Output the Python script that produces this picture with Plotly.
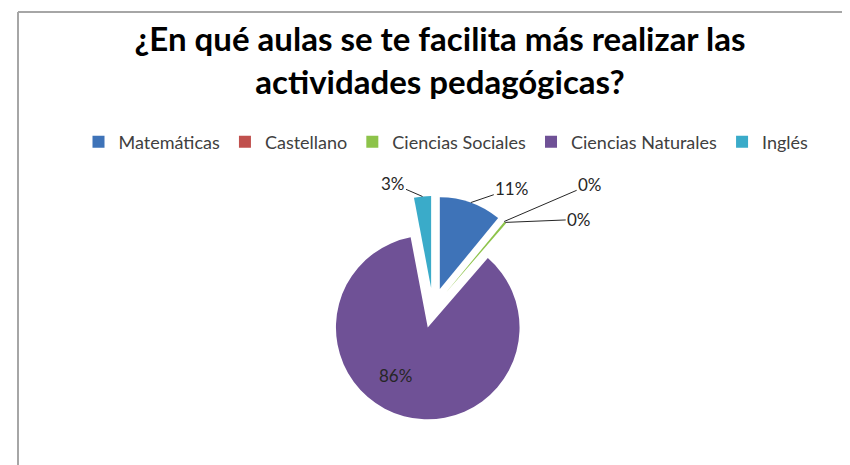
import math
import plotly.graph_objects as go

categories = ["Matemáticas", "Castellano", "Ciencias Sociales", "Ciencias Naturales", "Inglés"]
values = [11, 0, 0.4, 86, 3]
colors = ["#3e73b8", "#c0504d", "#8dc34a", "#6f5196", "#3aabc9"]

# label offsets (pixels from the slice edge) — styling only
label_offsets = [(41, -14), (86, -37), (74, -3), None, (-30, -13)]

W, H = 850, 465
PULL = 0.22
CX, CY = 425, 300          # pie centre in pixels
BOX = 224                  # pie domain box side in pixels

fig = go.Figure(go.Pie(
    labels=categories,
    values=values,
    sort=False,
    direction="clockwise",
    rotation=0,
    pull=[PULL] * len(values),
    marker=dict(colors=colors, line=dict(width=0)),
    textinfo="none",
    domain=dict(x=[(CX - BOX / 2) / W, (CX + BOX / 2) / W],
                y=[1 - (CY + BOX / 2) / H, 1 - (CY - BOX / 2) / H]),
    hoverinfo="label+percent",
))

# data labels with leader lines, positioned from the slice angles
total = sum(values)
r = BOX / (2 + 2 * PULL)
d = PULL * r
annotations = []
cum = 0.0
for cat, v, off in zip(categories, values, label_offsets):
    frac = v / total
    mid = math.radians((cum + frac / 2) * 360)
    cum += frac
    txt = f"{round(frac * 100):.0f}%"
    sx, sy = math.sin(mid), -math.cos(mid)
    if off is None:
        # inside label for the big slice
        px, py = CX + d * sx, CY + d * sy
        annotations.append(dict(
            x=px / W, y=1 - py / H, xref="paper", yref="paper", text=txt,
            showarrow=False, xshift=-32, yshift=-60,
            font=dict(family="Lato", size=17, color="#262626"),
        ))
    else:
        ex, ey = CX + (r + d) * sx, CY + (r + d) * sy
        annotations.append(dict(
            x=ex / W, y=1 - ey / H, xref="paper", yref="paper", text=txt,
            showarrow=True, arrowhead=0, arrowwidth=1, arrowcolor="#262626",
            ax=off[0], ay=off[1], standoff=0,
            font=dict(family="Lato", size=17, color="#262626"),
        ))

fig.update_layout(
    width=W, height=H,
    margin=dict(l=0, r=0, t=0, b=0),
    paper_bgcolor="white",
    title=dict(
        text="¿En qué aulas se te facilita más realizar las<br>actividades pedagógicas?",
        x=432 / W, xanchor="center",
        y=1 - 43 / H, yanchor="middle",
        font=dict(family="Lato", size=33, color="#000000", weight="bold"),
    ),
    legend=dict(
        orientation="h",
        x=438 / W, xanchor="center",
        y=1 - 134 / H, yanchor="middle",
        font=dict(family="Lato", size=18, color="#404040"),
        traceorder="normal",
    ),
    annotations=annotations,
    shapes=[
        dict(type="line", xref="paper", yref="paper", x0=10 / W, x1=10 / W, y0=0, y1=1 - 4 / H,
             line=dict(color="#a6a6a6", width=2)),
        dict(type="line", xref="paper", yref="paper", x0=10 / W, x1=1, y0=1 - 4 / H, y1=1 - 4 / H,
             line=dict(color="#a6a6a6", width=2)),
    ],
)

fig.write_html("out.html")
